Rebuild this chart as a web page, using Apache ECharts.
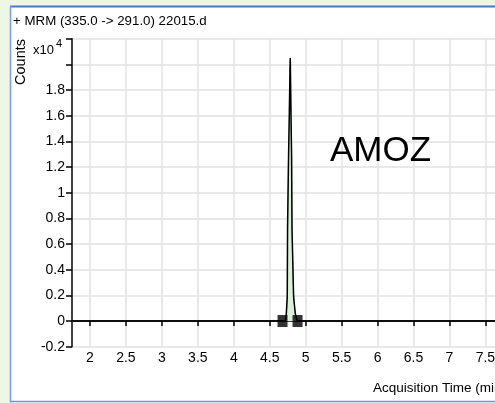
<!DOCTYPE html>
<html>
<head>
<meta charset="utf-8">
<script src="https://cdn.jsdelivr.net/npm/echarts@6/dist/echarts.min.js"></script>
<style>
html,body{margin:0;padding:0;background:#eef6e6;overflow:hidden;}
#chart{width:495px;height:403px;}
</style>
</head>
<body>
<div id="chart"></div>
<script>
// ---- data (counts in units of 10^4) ----
var timeMin = [1.76, 4.716, 4.730, 4.744, 4.748, 4.762, 4.772, 4.782, 4.786, 4.796, 4.804, 4.810, 4.832, 4.855, 4.883, 7.29, 7.31, 7.33, 7.75];
var counts  = [0,    0,     0.05,  0.19,  0.72,  1.29,  1.60,  1.97,  2.05,  1.60,  1.29,  0.72,  0.19,  0.06,  0,     0,    0.015, 0,    0];
var integrationMarkers = [4.678, 4.887];
var peakLabel = '4.780';
var xTicks = [2, 2.5, 3, 3.5, 4, 4.5, 5, 5.5, 6, 6.5, 7, 7.5];
var yHiddenLabels = [2.2, 2.0];
var titleText = '+ MRM (335.0 -> 291.0) 22015.d';
var compoundName = 'AMOZ';
var xAxisTitle = 'Acquisition Time (min)';
var yAxisTitle = 'Counts';

var FONT = '"Liberation Sans", Arial, sans-serif';
var X_MIN = 1.75, X_MAX = 7.75;

var peakIdx = counts.indexOf(Math.max.apply(null, counts));
var traceData = timeMin.map(function (t, i) {
  var item = { value: [t, counts[i]] };
  if (i === peakIdx) {
    item.label = { show: true, position: 'top', distance: 3, formatter: peakLabel,
      fontFamily: FONT, fontSize: 14, color: '#000' };
  }
  return item;
});
var fillData = [];
timeMin.forEach(function (t, i) {
  if (t >= integrationMarkers[0] && t <= integrationMarkers[1]) fillData.push([t, counts[i]]);
});
fillData.unshift([integrationMarkers[0], 0]);
fillData.push([integrationMarkers[1], 0]);

var chart = echarts.init(document.getElementById('chart'), null, { renderer: 'canvas' });
chart.setOption({
  backgroundColor: '#eef6e6',
  animation: false,
  title: {
    text: titleText, left: 13, top: 15, padding: 0,
    textStyle: { fontFamily: FONT, fontSize: 13.3, fontWeight: 'normal', color: '#000' }
  },
  graphic: [
    { type: 'rect', z: -100, shape: { x: 10, y: 7, width: 490, height: 394 }, style: { fill: '#ffffff' } },
    { type: 'line', z: 100, shape: { x1: 10, y1: 6.5, x2: 495, y2: 6.5 }, style: { stroke: '#4f74c2', lineWidth: 2 } },
    { type: 'line', z: 100, shape: { x1: 10.5, y1: 6, x2: 10.5, y2: 402 }, style: { stroke: '#7a9fe2', lineWidth: 1.5 } },
    { type: 'line', z: 100, shape: { x1: 10, y1: 401.5, x2: 495, y2: 401.5 }, style: { stroke: '#6f96e0', lineWidth: 1.5 } },
    { type: 'text', z: 100, x: 21, y: 62, rotation: Math.PI / 2,
      style: { text: yAxisTitle, font: '14.5px ' + FONT, fill: '#000', textAlign: 'center', textVerticalAlign: 'middle' } },
    { type: 'text', z: 100, x: 33, y: 50,
      style: { text: 'x10', font: '13px ' + FONT, fill: '#000', textAlign: 'left', textVerticalAlign: 'middle' } },
    { type: 'text', z: 100, x: 56, y: 44,
      style: { text: '4', font: '11px ' + FONT, fill: '#000', textAlign: 'left', textVerticalAlign: 'middle' } },
    { type: 'text', z: 100, x: 330, y: 151,
      style: { text: compoundName, font: '35px ' + FONT, fill: '#000', textAlign: 'left', textVerticalAlign: 'middle' } },
    { type: 'text', z: 100, x: 373, y: 388,
      style: { text: xAxisTitle, font: '13.5px ' + FONT, fill: '#000', textAlign: 'left', textVerticalAlign: 'middle' } }
  ],
  grid: { left: 72, width: 431.4, top: 38.7, height: 308, containLabel: false, outerBoundsMode: 'none' },
  xAxis: [{
    type: 'value', min: X_MIN, max: X_MAX,
    axisLine: { show: true, lineStyle: { color: '#000', width: 1.5 } },
    axisTick: { show: true, customValues: xTicks, length: 5, lineStyle: { color: '#000', width: 1.5 } },
    axisLabel: { show: true, customValues: xTicks, margin: 4, fontFamily: FONT, fontSize: 14, color: '#000',
      formatter: function (v) { return String(v); } },
    splitLine: { show: false }
  }, {
    // helper axis: draws the vertical grid lines at the tick values only
    type: 'value', min: X_MIN, max: X_MAX, position: 'bottom', z: -1,
    axisLine: { show: false },
    axisLabel: { show: false },
    axisTick: { show: true, inside: true, customValues: xTicks, length: 308, lineStyle: { color: '#e2e2e2', width: 1.5 } },
    splitLine: { show: false }
  }],
  yAxis: {
    type: 'value', min: -0.2, max: 2.2, interval: 0.2,
    axisLine: { show: true, onZero: false, lineStyle: { color: '#000', width: 1.5 } },
    axisTick: { show: true, length: 6, lineStyle: { color: '#000', width: 1.5 } },
    axisLabel: { show: true, margin: 7, fontFamily: FONT, fontSize: 14, color: '#000',
      showMaxLabel: true,
      formatter: function (v) {
        var r = Math.round(v * 10) / 10;
        for (var i = 0; i < yHiddenLabels.length; i++) if (Math.abs(r - yHiddenLabels[i]) < 1e-6) return '';
        return String(r);
      } },
    splitLine: { show: true, lineStyle: { color: '#e2e2e2', width: 1.5 } }
  },
  series: [
    { type: 'line', data: fillData, symbol: 'none', z: 1,
      lineStyle: { width: 0.8, color: '#8fb58f' }, areaStyle: { color: '#d8f2d6', opacity: 1 } },
    { type: 'line', data: traceData, symbol: 'none', z: 3,
      lineStyle: { width: 1.5, color: '#000' } },
    { type: 'scatter', data: integrationMarkers.map(function (t) { return [t, 0]; }), z: 4,
      symbol: 'rect', symbolSize: [10, 12], itemStyle: { color: '#000' } }
  ]
});
</script>
</body>
</html>
